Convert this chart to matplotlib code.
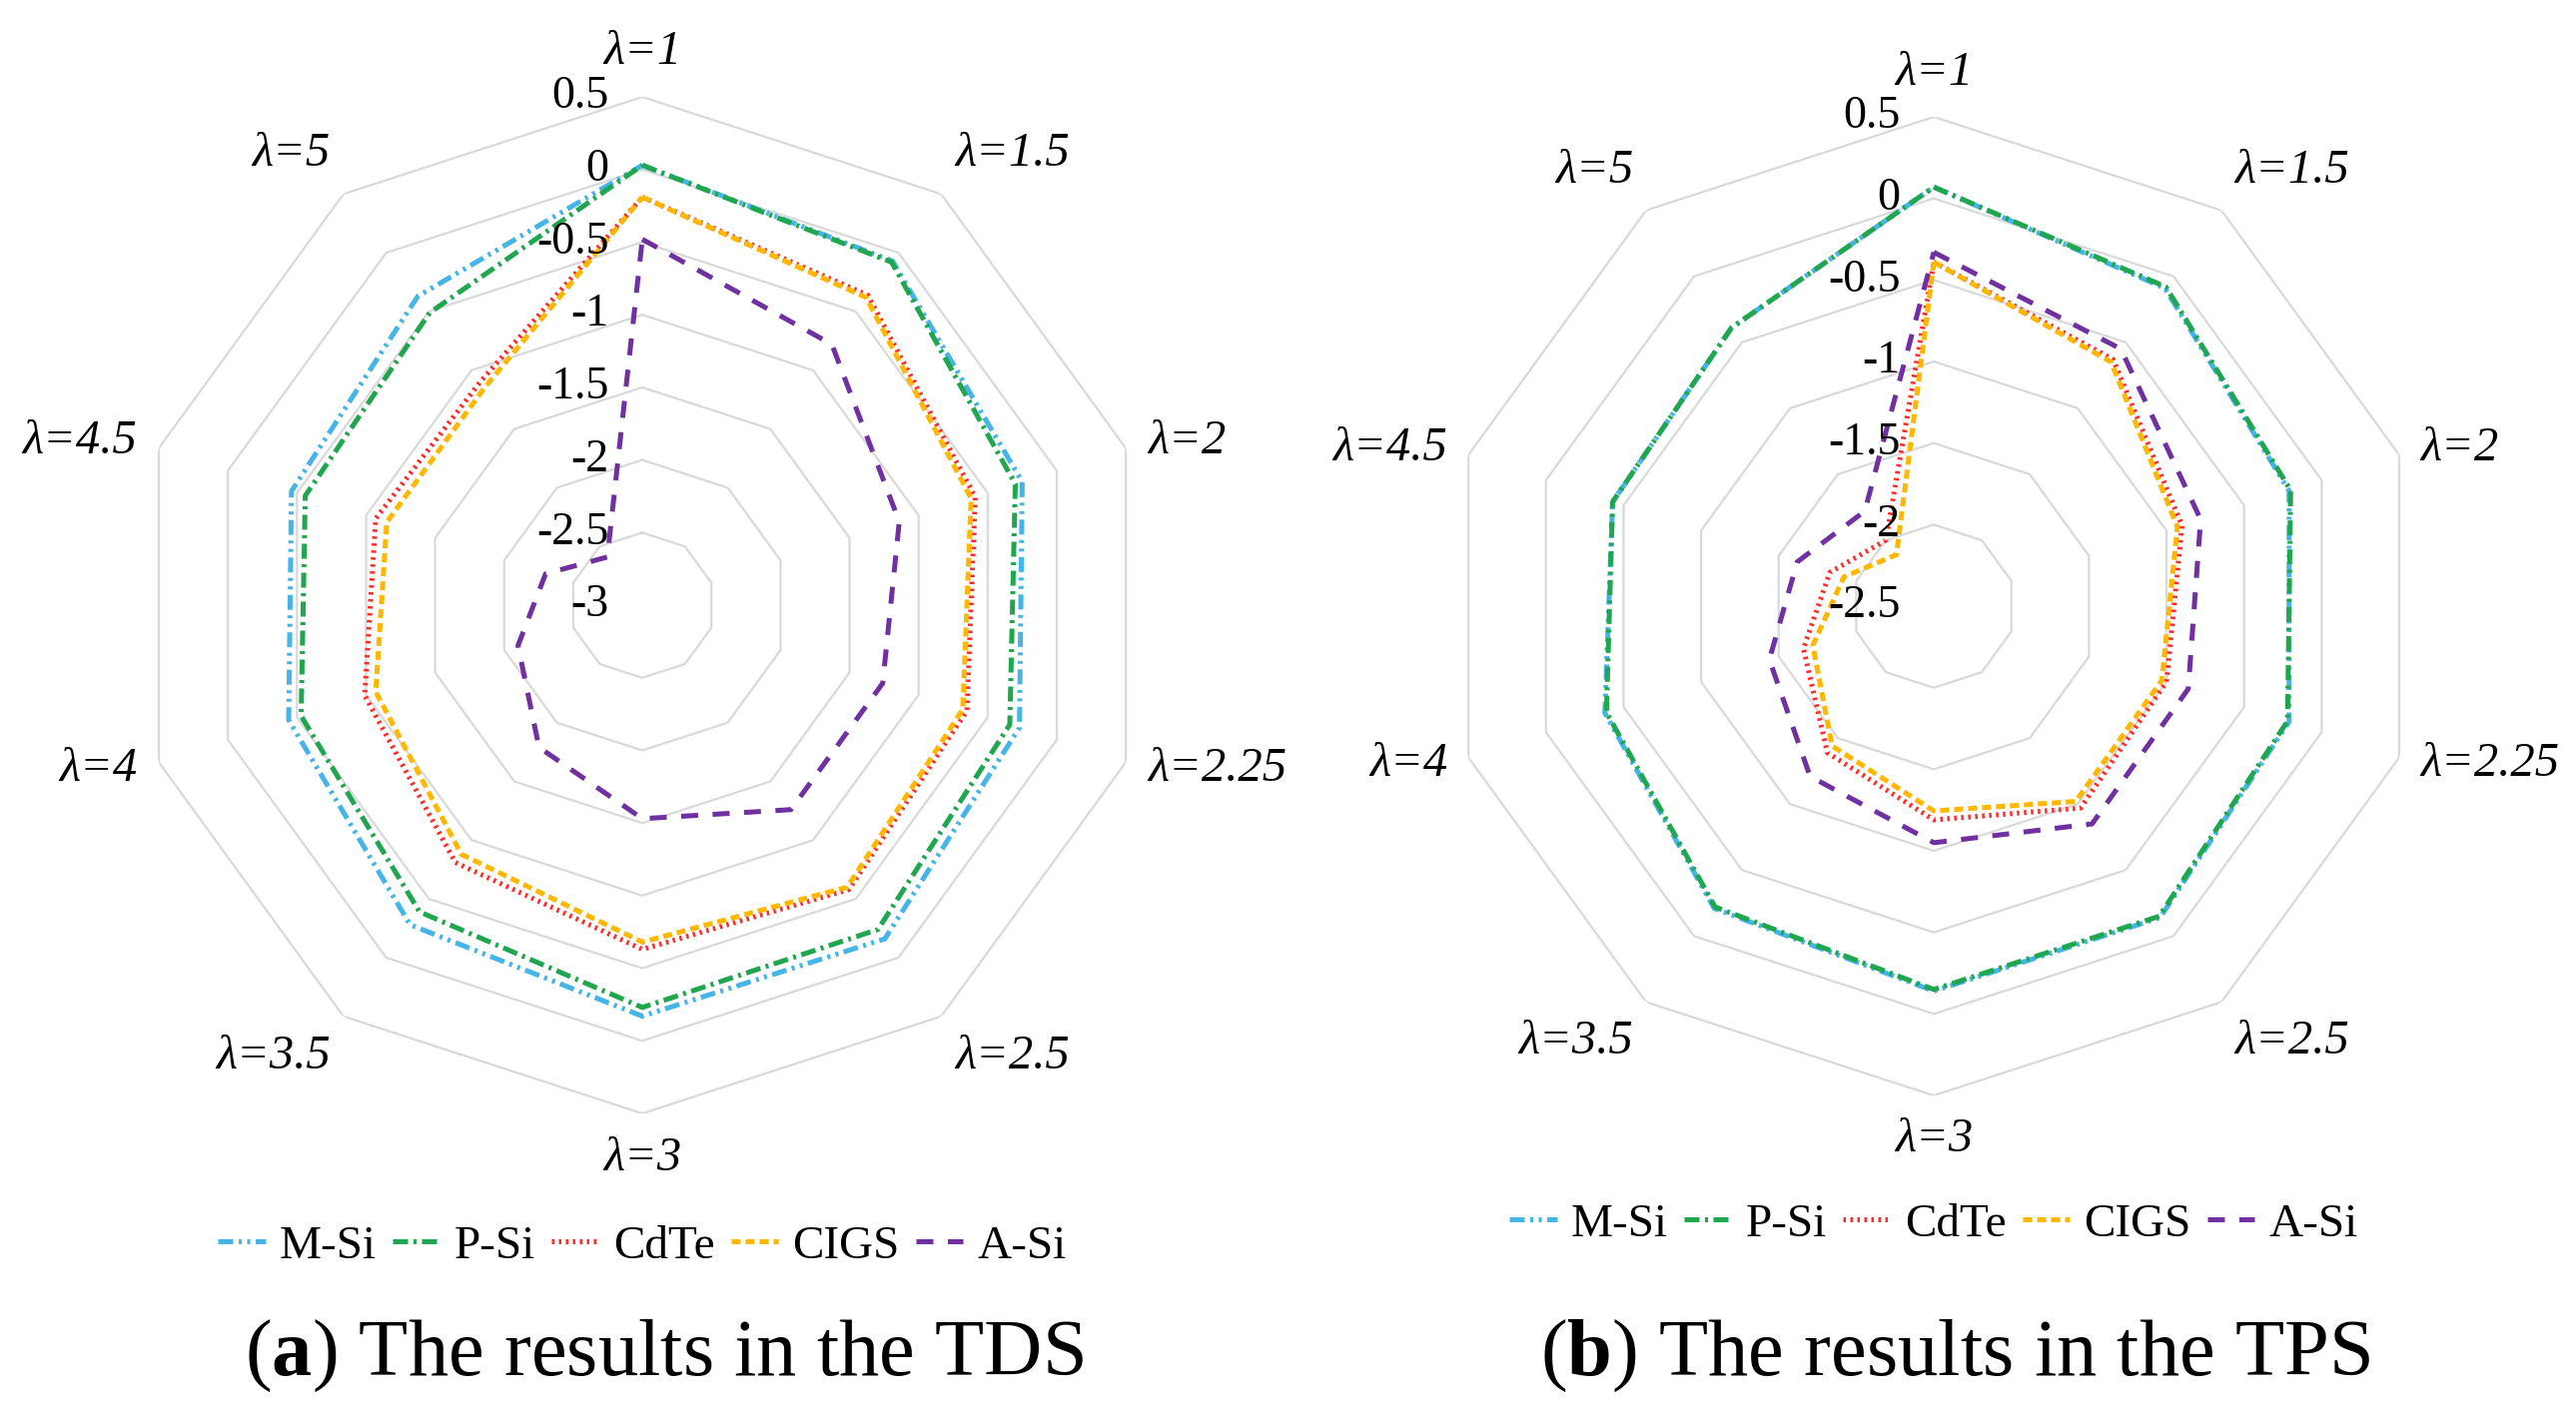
import numpy as np
import matplotlib

matplotlib.use("Agg")
import matplotlib.pyplot as plt

plt.rcParams.update({
    "font.family": "Liberation Serif",
    "mathtext.fontset": "custom",
    "mathtext.rm": "Liberation Serif",
    "mathtext.bf": "Liberation Serif:bold",
})

# --- data ------------------------------------------------------------------
labels = ["λ=1", "λ=1.5", "λ=2", "λ=2.25", "λ=2.5", "λ=3", "λ=3.5", "λ=4", "λ=4.5", "λ=5"]
names = ["M-Si", "P-Si", "CdTe", "CIGS", "A-Si"]

tds_msi = [0.03, -0.07, -0.25, -0.27, -0.16, -0.17, -0.28, -0.44, -0.46, -0.37]
tds_psi = [0.03, -0.08, -0.30, -0.34, -0.24, -0.23, -0.39, -0.53, -0.56, -0.51]
tds_cdte = [-0.19, -0.36, -0.59, -0.65, -0.58, -0.63, -0.81, -0.99, -1.07, -1.10]
tds_cigs = [-0.19, -0.38, -0.62, -0.68, -0.60, -0.68, -0.88, -1.07, -1.15, -1.15]
tds_asi = [-0.48, -0.78, -1.14, -1.26, -1.26, -1.53, -1.79, -2.10, -2.30, -2.59]
tds_ticks = [0.5, 0, -0.5, -1, -1.5, -2, -2.5, -3]

tps_msi = [0.07, -0.09, -0.21, -0.21, -0.14, -0.14, -0.21, -0.38, -0.43, -0.39]
tps_psi = [0.07, -0.08, -0.20, -0.22, -0.15, -0.15, -0.22, -0.39, -0.43, -0.39]
tps_cdte = [-0.39, -0.63, -0.90, -1.00, -0.97, -1.19, -1.39, -1.66, -1.83, -2.00]
tps_cigs = [-0.39, -0.65, -0.93, -1.03, -1.02, -1.245, -1.44, -1.72, -1.92, -2.11]
tps_asi = [-0.33, -0.55, -0.78, -0.86, -0.85, -1.05, -1.21, -1.44, -1.62, -1.78]
tps_ticks = [0.5, 0, -0.5, -1, -1.5, -2, -2.5]

# --- styles -----------------------------------------------------------------
STYLES = {
    "M-Si": dict(color="#45b4e6", dashes=(3.0, 1.1, 0.6, 1.1, 0.6, 1.1)),
    "P-Si": dict(color="#1fa64e", dashes=(3.0, 1.1, 0.6, 1.1)),
    "CdTe": dict(color="#ff2b2b", dashes=(0.5, 0.9)),
    "CIGS": dict(color="#ffb700", dashes=(1.8, 1.0)),
    "A-Si": dict(color="#7030a0", dashes=(3.4, 2.9)),
}
GRID = "#d9d9d9"


def radar(ax, series, ticks):
    n = len(labels)
    theta = np.linspace(0, 2 * np.pi, n, endpoint=False)
    tc = np.append(theta, theta[0])
    rmin, rmax = min(ticks), max(ticks)

    ax.set_theta_zero_location("N")
    ax.set_theta_direction(-1)
    ax.set_ylim(rmin, rmax)
    ax.grid(False)
    ax.spines["polar"].set_visible(False)
    ax.set_xticks([])
    ax.set_yticks([])
    ax.patch.set_alpha(0)

    for v in ticks:
        if v > rmin:
            ax.plot(tc, [v] * (n + 1), color=GRID, lw=1.6, zorder=1)

    for name, vals in zip(names, series):
        st = STYLES[name]
        ax.plot(tc, list(vals) + [vals[0]], color=st["color"], lw=3.6,
                dashes=st["dashes"], label=name, zorder=3)

    for v in ticks:
        ax.annotate(f"{v:g}", xy=(0, v), xytext=(-24, 0), textcoords="offset points",
                    ha="right", va="center", fontsize=33, zorder=5)

    for t, lab in zip(theta, labels):
        s, c = np.sin(t), np.cos(t)
        ha = "center" if abs(s) < 0.1 else ("left" if s > 0 else "right")
        va = "center" if abs(c) < 0.5 else ("bottom" if c > 0 else "top")
        ax.text(t, rmin + (rmax - rmin) * 1.045, lab, ha=ha, va=va,
                fontsize=35, style="italic")


fig = plt.figure(figsize=(25.79, 14.19), dpi=100)
fig.patch.set_facecolor("white")

ax1 = fig.add_axes([0.052, 0.2142, 0.3947, 0.7174], projection="polar")
radar(ax1, [tds_msi, tds_psi, tds_cdte, tds_cigs, tds_asi], tds_ticks)

ax2 = fig.add_axes([0.5607, 0.2269, 0.380, 0.6906], projection="polar")
radar(ax2, [tps_msi, tps_psi, tps_cdte, tps_cigs, tps_asi], tps_ticks)

for ax, y in [(ax1, 0.1205), (ax2, 0.136)]:
    h, l = ax.get_legend_handles_labels()
    cx = (ax.get_position().x0 + ax.get_position().x1) / 2
    fig.legend(h, l, loc="center", bbox_to_anchor=(cx, y), ncol=5, frameon=False,
               fontsize=34, handlelength=1.0, handletextpad=0.3, columnspacing=0.35)

fig.text(0.258, 0.043, r"($\mathbf{a}$) The results in the TDS", ha="center", va="center", fontsize=58)
fig.text(0.759, 0.043, r"($\mathbf{b}$) The results in the TPS", ha="center", va="center", fontsize=58)

fig.savefig("out.png", dpi=100, facecolor="white")
